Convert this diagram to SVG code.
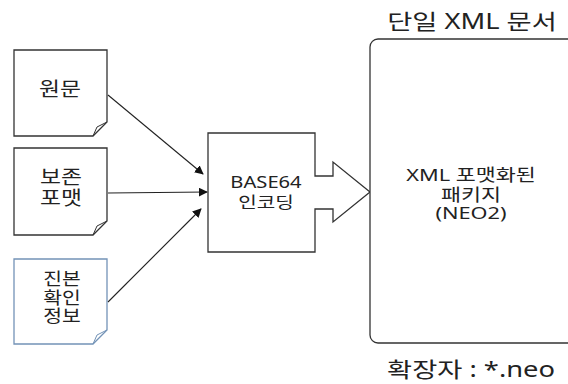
<svg xmlns="http://www.w3.org/2000/svg" width="568" height="384" viewBox="0 0 568 384">
<defs>
<style>
.doc{fill:#fff;stroke:#333;stroke-width:1.3}
.doc.blue{stroke:#7393b7}
.fold{fill:none;stroke:#333;stroke-width:1}
.fold.blue{stroke:#7393b7}
.t{font-family:"Noto Sans","Noto Sans CJK KR",sans-serif;fill:#222;text-anchor:middle}
.s19{font-size:19px}
.s17{font-size:17px}
.s16{font-size:16px}
.s21{font-size:21px}
.line{fill:none;stroke:#222;stroke-width:1.1;marker-end:url(#ah)}
</style>
<marker id="ah" viewBox="0 0 10 10" refX="9" refY="5" markerWidth="9" markerHeight="9" markerUnits="userSpaceOnUse" orient="auto">
<path d="M0,0 L10,5 L0,10 z" fill="#111"/>
</marker>
</defs>
<rect width="568" height="384" fill="#fff"/>

<g id="doc1">
<path class="doc" d="M14,50 H107 V122 L93,136 H14 Z"/>
<path class="fold" d="M93,136 L97,127 L107,122"/>
<text class="t s19" transform="translate(60,96) scale(1.2,1)">원문</text>
</g>

<g id="doc2">
<path class="doc" d="M14,148 H107 V221 L93,235 H14 Z"/>
<path class="fold" d="M93,235 L97,226 L107,221"/>
<text class="t s19" transform="translate(61,184) scale(1.2,1)">보존</text>
<text class="t s19" transform="translate(61,205) scale(1.2,1)">포맷</text>
</g>

<g id="doc3">
<path class="doc blue" d="M14,259 H107 V330 L93,344 H14 Z"/>
<path class="fold blue" d="M93,344 L97,335 L107,330"/>
<text class="t s17" transform="translate(62,285) scale(1.2,1)">진본</text>
<text class="t s17" transform="translate(62,304) scale(1.2,1)">확인</text>
<text class="t s17" transform="translate(62,322) scale(1.2,1)">정보</text>
</g>

<g id="encoder">
<path class="doc" d="M208,133 H315 V176 H333 V162 L370,192 L333,222 V209 H315 V252 H208 Z"/>
<text class="t s16" transform="translate(266,188) scale(1.26,1)">BASE64</text>
<text class="t s16" transform="translate(266,208) scale(1.26,1)">인코딩</text>
</g>

<g id="package">
<text class="t s21" transform="translate(472,29) scale(1.3,1)">단일 XML 문서</text>
<rect x="370" y="39" width="206" height="304" rx="8" ry="8" fill="#fff" stroke="#333" stroke-width="1.3"/>
<text class="t s17" transform="translate(471,181) scale(1.28,1)">XML 포맷화된</text>
<text class="t s17" transform="translate(471,201) scale(1.28,1)">패키지</text>
<text class="t s17" transform="translate(471,219) scale(1.28,1)">(NEO2)</text>
<text class="t s21" transform="translate(471,377) scale(1.3,1)">확장자 : *.neo</text>
</g>

<g id="connectors">
<path class="line" d="M108,95 L203,174"/>
<path class="line" d="M108,193 L207,192"/>
<path class="line" d="M108,302 L201,209"/>
</g>
</svg>
